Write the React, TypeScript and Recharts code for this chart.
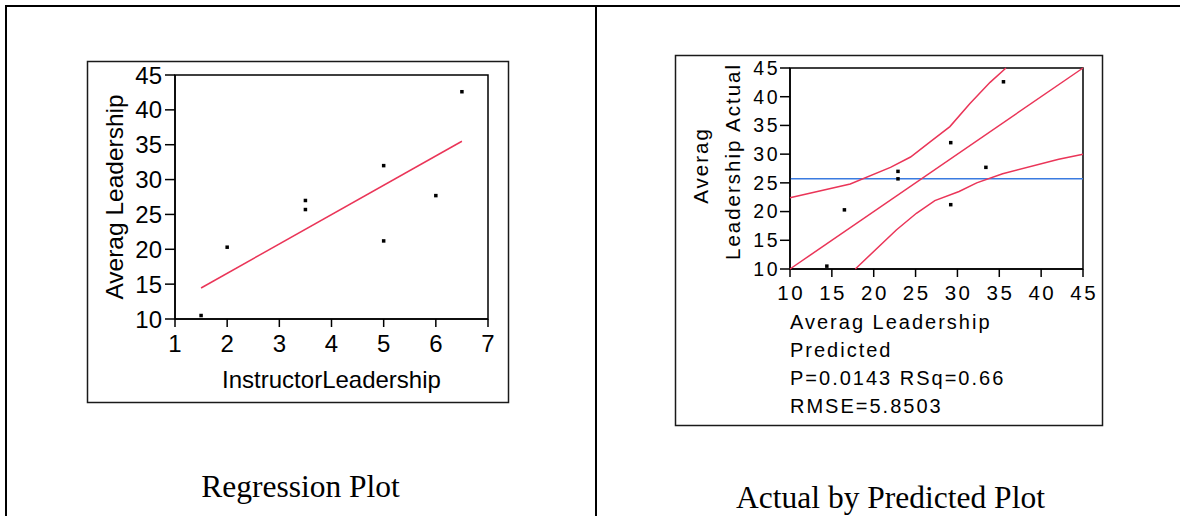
import React from "react";
import { ScatterChart, Scatter, XAxis, YAxis, ReferenceArea, ReferenceLine, Label } from "recharts";

// regression of average leadership on instructor leadership
const instructorLeadership = [1.5, 2, 3.5, 3.5, 5, 5, 6, 6.5];
const averagLeadership = [10.5, 20.3, 27.0, 25.7, 32.0, 21.2, 27.7, 42.6];
const fitLineX = [1.5, 6.5];
const fitLineY = [14.45, 35.5];

// actual by predicted
const predictedLeadership = [14.4, 16.5, 22.9, 22.9, 29.2, 29.2, 33.4, 35.5];
const identityLine = [10, 45];
const upperBandX = [10, 17.2, 22, 24.4, 26.7, 29.1, 31.5, 33.9, 35.8];
const upperBandY = [22.4, 24.8, 27.7, 29.5, 32.1, 34.8, 38.8, 42.5, 45];
const lowerBandX = [17.8, 22.7, 25.1, 27.3, 30.2, 32.3, 35.4, 42.1, 45];
const lowerBandY = [10, 16.8, 19.7, 21.9, 23.5, 25.0, 26.6, 29.1, 30.0];
const meanActual = 25.7;

const instructorTicks = [1, 2, 3, 4, 5, 6, 7];
const leadershipTicks = [10, 15, 20, 25, 30, 35, 40, 45];
const predictedTicks = [10, 15, 20, 25, 30, 35, 40, 45];
const fitStats = ["Averag Leadership", "Predicted", "P=0.0143 RSq=0.66", "RMSE=5.8503"];

const sans = "'Liberation Sans', Arial, sans-serif";
const serif = "'Liberation Serif', 'Times New Roman', serif";
const fitRed = "#ea3558";
const meanBlue = "#3a7be0";

const zip = (xs: number[], ys: number[]) => xs.map((x, i) => ({ x, y: ys[i] }));

const dot = (props: any) => (
  <rect x={props.cx - 1.75} y={props.cy - 1.75} width={3.5} height={3.5} fill="#000" />
);
const noDot = () => <g />;

const axisLine = { stroke: "#000", strokeWidth: 1.5 };

function RegressionPlot() {
  return (
    <ScatterChart width={422} height={342} margin={{ top: 14, right: 21, bottom: 0, left: 0 }}>
      <XAxis
        type="number"
        dataKey="x"
        domain={[1, 7]}
        ticks={instructorTicks}
        height={84}
        tickSize={8}
        tickMargin={8}
        axisLine={axisLine}
        tickLine={axisLine}
        tick={{ fill: "#000", fontSize: 24, fontFamily: sans }}
      >
        <Label
          content={({ viewBox }: any) => (
            <text
              x={viewBox.x + viewBox.width / 2}
              y={viewBox.y + 69.3}
              textAnchor="middle"
              fontSize={24}
              fontFamily={sans}
              fill="#000"
            >
              InstructorLeadership
            </text>
          )}
        />
      </XAxis>
      <YAxis
        type="number"
        dataKey="y"
        domain={[10, 45]}
        ticks={leadershipTicks}
        width={88}
        tickSize={10}
        tickMargin={3}
        axisLine={axisLine}
        tickLine={axisLine}
        tick={{ fill: "#000", fontSize: 24, fontFamily: sans }}
      >
        <Label
          content={({ viewBox }: any) => {
            const cx = viewBox.x + 35.7;
            const cy = viewBox.y + viewBox.height / 2;
            return (
              <text
                x={cx}
                y={cy}
                transform={`rotate(-90 ${cx} ${cy})`}
                textAnchor="middle"
                fontSize={24.5}
                fontFamily={sans}
                fill="#000"
              >
                Averag Leadership
              </text>
            );
          }}
        />
      </YAxis>
      <ReferenceArea x1={1} x2={7} y1={10} y2={45} fill="none" stroke="#000" strokeWidth={1.5} />
      <Scatter
        data={zip(fitLineX, fitLineY)}
        shape={noDot}
        line={{ stroke: fitRed, strokeWidth: 1.5 }}
        lineType="joint"
        isAnimationActive={false}
      />
      <Scatter data={zip(instructorLeadership, averagLeadership)} shape={dot} isAnimationActive={false} />
    </ScatterChart>
  );
}

function ActualByPredictedPlot() {
  const spaced = { fill: "#000", fontFamily: sans, letterSpacing: 2.5 };
  return (
    <ScatterChart width={428} height={370} margin={{ top: 12, right: 20, bottom: 0, left: 0 }}>
      <XAxis
        type="number"
        dataKey="x"
        domain={[10, 45]}
        ticks={predictedTicks}
        height={157}
        tickSize={8}
        tickMargin={8}
        axisLine={axisLine}
        tickLine={axisLine}
        tick={{ ...spaced, fontSize: 20.5, dx: 1.2 }}
      >
        <Label
          content={({ viewBox }: any) => (
            <text x={viewBox.x} y={viewBox.y + 60} fontSize={20} fontFamily={sans} letterSpacing={2} fill="#000">
              {fitStats.map((line, i) => (
                <tspan key={line} x={viewBox.x} dy={i === 0 ? 0 : 28.1}>
                  {line}
                </tspan>
              ))}
            </text>
          )}
        />
      </XAxis>
      <YAxis
        type="number"
        dataKey="y"
        domain={[10, 45]}
        ticks={leadershipTicks}
        width={115}
        tickSize={10}
        tickMargin={0}
        axisLine={axisLine}
        tickLine={axisLine}
        tick={{ ...spaced, fontSize: 19.5 }}
      >
        <Label
          content={({ viewBox }: any) => {
            const cy = viewBox.y + viewBox.height / 2;
            const rows = [
              { text: "Averag", x: viewBox.x + 33, y: cy - 3 },
              { text: "Leadership Actual", x: viewBox.x + 65, y: cy - 7 },
            ];
            return (
              <g>
                {rows.map((r) => (
                  <text
                    key={r.text}
                    x={r.x}
                    y={r.y}
                    transform={`rotate(-90 ${r.x} ${r.y})`}
                    textAnchor="middle"
                    fontSize={20.5}
                    fontFamily={sans}
                    letterSpacing={2}
                    fill="#000"
                  >
                    {r.text}
                  </text>
                ))}
              </g>
            );
          }}
        />
      </YAxis>
      <ReferenceArea x1={10} x2={45} y1={10} y2={45} fill="none" stroke="#000" strokeWidth={1.5} />
      <ReferenceLine y={meanActual} stroke={meanBlue} strokeWidth={1.5} />
      <Scatter
        data={zip(upperBandX, upperBandY)}
        shape={noDot}
        line={{ stroke: fitRed, strokeWidth: 1.5 }}
        lineType="joint"
        isAnimationActive={false}
      />
      <Scatter
        data={zip(lowerBandX, lowerBandY)}
        shape={noDot}
        line={{ stroke: fitRed, strokeWidth: 1.5 }}
        lineType="joint"
        isAnimationActive={false}
      />
      <Scatter
        data={zip(identityLine, identityLine)}
        shape={noDot}
        line={{ stroke: fitRed, strokeWidth: 1.5 }}
        lineType="joint"
        isAnimationActive={false}
      />
      <Scatter data={zip(predictedLeadership, averagLeadership)} shape={dot} isAnimationActive={false} />
    </ScatterChart>
  );
}

export default function App() {
  return (
    <div style={{ position: "absolute", left: 0, top: 0, width: 1180, height: 516, background: "#fff", overflow: "hidden" }}>
      <svg width={1180} height={516} style={{ position: "absolute", left: 0, top: 0 }}>
        <rect x={5} y={5} width={1175} height={2} fill="#000" />
        <rect x={5} y={5} width={2} height={511} fill="#000" />
        <rect x={595} y={5} width={2} height={511} fill="#000" />
        <rect x={87.5} y={61.5} width={421} height={341} fill="none" stroke="#1a1a1a" strokeWidth={1.5} />
        <rect x={675.5} y={55.5} width={427} height={370} fill="none" stroke="#1a1a1a" strokeWidth={1.5} />
        <text x={300.5} y={496.7} textAnchor="middle" fontSize={31.5} fontFamily={serif} fill="#000">
          Regression Plot
        </text>
        <text x={890.5} y={508.3} textAnchor="middle" fontSize={31.5} fontFamily={serif} fill="#000">
          Actual by Predicted Plot
        </text>
      </svg>
      <div style={{ position: "absolute", left: 87, top: 61 }}>
        <RegressionPlot />
      </div>
      <div style={{ position: "absolute", left: 675, top: 56 }}>
        <ActualByPredictedPlot />
      </div>
    </div>
  );
}
